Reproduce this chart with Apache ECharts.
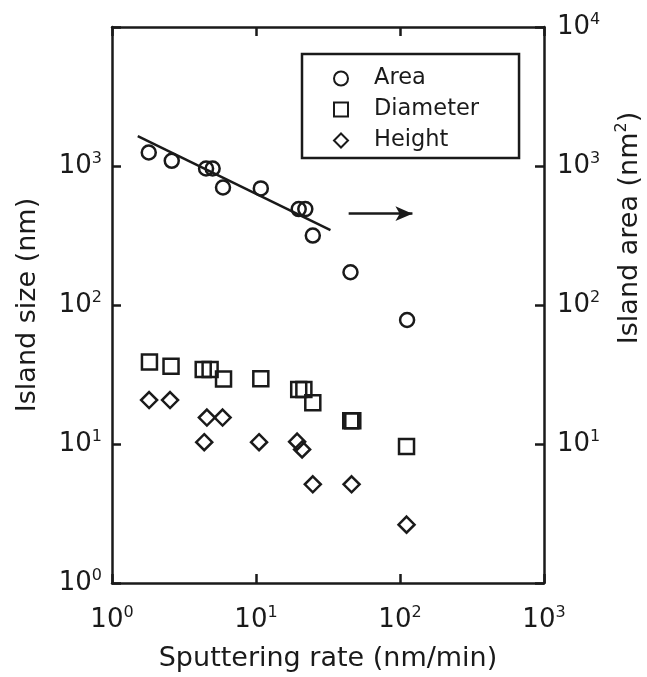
<!DOCTYPE html>
<html>
<head>
<meta charset="utf-8">
<script src="https://cdn.jsdelivr.net/npm/echarts@6/dist/echarts.min.js"></script>
<style>
html,body{margin:0;padding:0;background:#fff;}
#chart{width:647px;height:677px;}
</style>
</head>
<body>
<div id="chart"></div>
<script>
// ---- data ----
const areaX = [1.8, 2.6, 4.5, 5.0, 5.9, 10.8, 19.8, 22.0, 24.8, 45.3, 112];
const areaY = [1250, 1090, 960, 960, 700, 690, 490, 490, 316, 172, 78];

const diamX = [1.82, 2.57, 4.3, 4.8, 5.95, 10.8, 19.8, 21.5, 24.8, 45.5, 47, 111];
const diamY = [38.9, 36.2, 34.3, 34.3, 29.4, 29.5, 24.7, 24.7, 19.8, 14.7, 14.7, 9.6];

const heightX = [1.81, 2.53, 4.56, 5.86, 4.37, 10.5, 19.3, 20.9, 24.8, 46.1, 111];
const heightY = [20.7, 20.7, 15.5, 15.5, 10.3, 10.3, 10.4, 9.14, 5.13, 5.13, 2.63];

const fitX = [1.51, 32.9];
const fitY = [1641, 346];

const arrowX = [44, 122];
const arrowY = [454, 454];

const seriesNames = ['Area', 'Diameter', 'Height'];
const xTickValues = [1, 10, 100, 1000];
const leftTickValues = [1, 10, 100, 1000];
const rightTickValues = [10, 100, 1000, 10000];

// ---- helpers ----
const pair = (xs, ys) => xs.map((x, i) => [x, ys[i]]);
const ink = '#1a1a1a';
const FONT = 'DejaVu Sans';

function powLabel(v) {
  const e = Math.round(Math.log10(v));
  return '{b|10}{s|' + e + '}';
}
const rich = {
  b: { fontSize: 26, fontFamily: FONT, color: ink, lineHeight: 30 },
  s: { fontSize: 16, fontFamily: FONT, color: ink, lineHeight: 14, verticalAlign: 'top' }
};
function fmt(allowed) {
  return function (v) {
    for (const a of allowed) { if (Math.abs(v - a) / a < 1e-6) return powLabel(a); }
    return '';
  };
}

const symStyle = { color: 'rgba(255,255,255,0)', borderColor: ink, borderWidth: 2.5, opacity: 1 };

const chart = echarts.init(document.getElementById('chart'), null, { renderer: 'canvas' });

const axisLine = { show: true, lineStyle: { color: ink, width: 2.5 } };
const axisTick = { show: true, inside: true, length: 9, lineStyle: { color: ink, width: 2.5 } };

chart.setOption({
  backgroundColor: '#fff',
  animation: false,
  grid: { left: 112, right: 103, top: 27, bottom: 88, containLabel: false },
  legend: {
    data: seriesNames,
    orient: 'vertical',
    left: 302,
    top: 54,
    padding: [13, 40, 6, 31],
    itemWidth: 14,
    itemHeight: 14,
    itemGap: 8,
    borderColor: ink,
    borderWidth: 2.5,
    formatter: name => '{t|' + name + '}',
    textStyle: {
      rich: { t: { fontFamily: FONT, fontSize: 22.5, color: ink, lineHeight: 22, padding: [0, 0, 0, 21] } }
    }
  },
  xAxis: [
    {
      type: 'log', logBase: 10, min: 1, max: 1000, position: 'bottom',
      name: 'Sputtering rate (nm/min)', nameLocation: 'middle', nameGap: 62,
      nameTextStyle: { fontFamily: FONT, fontSize: 27, color: ink },
      axisLine, axisTick, minorTick: { show: false }, splitLine: { show: false },
      axisLabel: { formatter: fmt(xTickValues), rich, margin: 22 }
    },
    {
      type: 'log', logBase: 10, min: 1, max: 1000, position: 'top',
      axisLine, axisTick, splitLine: { show: false },
      axisLabel: { show: false }
    }
  ],
  yAxis: [
    {
      type: 'log', logBase: 10, min: 1, max: 10000, position: 'left',
      name: 'Island size (nm)', nameLocation: 'middle', nameGap: 71,
      nameTextStyle: { fontFamily: FONT, fontSize: 27, color: ink },
      axisLine, axisTick, splitLine: { show: false },
      axisLabel: { formatter: fmt(leftTickValues), rich, margin: 10 }
    },
    {
      type: 'log', logBase: 10, min: 1, max: 10000, position: 'right',
      axisLine, axisTick, splitLine: { show: false },
      axisLabel: { formatter: fmt(rightTickValues), rich, margin: 13 }
    }
  ],
  graphic: [
    {
      type: 'text', x: 630, y: 228, rotation: Math.PI / 2,
      style: {
        text: '{t|Island area (nm}{s|2}{t|)}',
        rich: {
          t: { fontFamily: FONT, fontSize: 27, fill: ink, lineHeight: 32 },
          s: { fontFamily: FONT, fontSize: 16, fill: ink, lineHeight: 16, verticalAlign: 'top' }
        },
        align: 'center', verticalAlign: 'middle'
      }
    }
  ],
  series: [
    {
      name: 'Area', type: 'scatter', data: pair(areaX, areaY),
      symbol: 'circle', symbolSize: 14, itemStyle: symStyle
    },
    {
      name: 'Diameter', type: 'scatter', data: pair(diamX, diamY),
      symbol: 'rect', symbolSize: 15, itemStyle: symStyle
    },
    {
      name: 'Height', type: 'scatter', data: pair(heightX, heightY),
      symbol: 'diamond', symbolSize: 16, itemStyle: symStyle
    },
    {
      name: 'fit', type: 'line', data: pair(fitX, fitY), symbol: 'none',
      lineStyle: { color: ink, width: 2.5 }, silent: true,
      markLine: {
        silent: true, symbol: ['none', 'arrow'], symbolSize: [11, 17],
        label: { show: false },
        lineStyle: { color: ink, width: 2.5, type: 'solid' },
        data: [[{ coord: [arrowX[0], arrowY[0]] }, { coord: [arrowX[1], arrowY[1]] }]]
      }
    }
  ]
});
</script>
</body>
</html>
